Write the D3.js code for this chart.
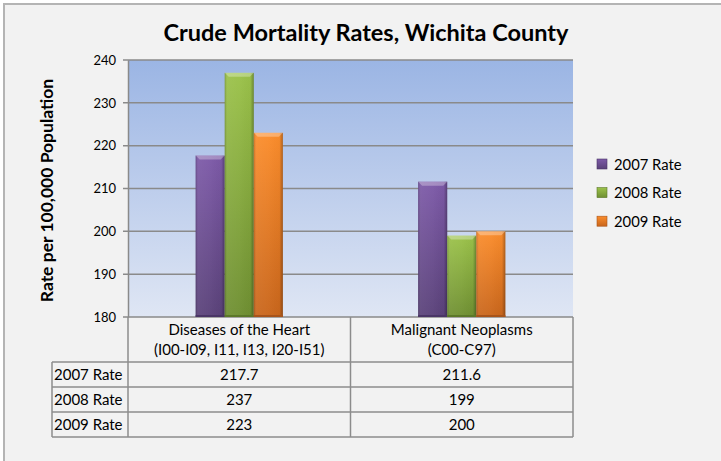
<!DOCTYPE html>
<html>
<head>
<meta charset="utf-8">
<script src="https://cdn.jsdelivr.net/npm/d3@7"></script>
<style>
  body { margin: 0; background: #ffffff; }
  svg text { font-family: Lato, "Open Sans", sans-serif; fill: #000; }
</style>
</head>
<body>
<div id="chart"></div>
<script>
var svgWidth = 721;
var svgHeight = 461;

// chart data
var categories = ["Diseases of the Heart", "Malignant Neoplasms"];
var categoryCodes = ["(I00-I09, I11, I13, I20-I51)", "(C00-C97)"];
var seriesNames = ["2007 Rate", "2008 Rate", "2009 Rate"];
var rate2007 = [217.7, 211.6];
var rate2008 = [237, 199];
var rate2009 = [223, 200];
var yTicks = [180, 190, 200, 210, 220, 230, 240];

var seriesValues = [rate2007, rate2008, rate2009];

// colours for each series: [top, bottom, edge]
var seriesColors = [
  ["#7d5aa8", "#5a4279", "#4a3566"],
  ["#9bc24a", "#6f8f32", "#5c7829"],
  ["#fb8d2c", "#c9661c", "#a8541a"]
];

var plot = { left: 128, right: 573, top: 60, bottom: 317 };

var svg = d3.select("#chart")
  .append("svg")
  .attr("width", svgWidth)
  .attr("height", svgHeight);

var defs = svg.append("defs");

// plot area background gradient
var bgGrad = defs.append("linearGradient")
  .attr("id", "plotBg")
  .attr("x1", 0).attr("y1", 0).attr("x2", 0).attr("y2", 1);
bgGrad.append("stop").attr("offset", "0%").attr("stop-color", "#9bb5e4");
bgGrad.append("stop").attr("offset", "100%").attr("stop-color", "#dfe6f4");

// one vertical gradient per series
seriesColors.forEach(function(c, i) {
  var g = defs.append("linearGradient")
    .attr("id", "bar" + i)
    .attr("x1", 0).attr("y1", 0).attr("x2", 0).attr("y2", 1);
  g.append("stop").attr("offset", "0%").attr("stop-color", c[0]);
  g.append("stop").attr("offset", "100%").attr("stop-color", c[1]);
});

// side shading shared by all bars
var sideGrad = defs.append("linearGradient")
  .attr("id", "barSides")
  .attr("x1", 0).attr("y1", 0).attr("x2", 1).attr("y2", 0);
sideGrad.append("stop").attr("offset", "0%").attr("stop-color", "#000").attr("stop-opacity", 0.2);
sideGrad.append("stop").attr("offset", "10%").attr("stop-color", "#fff").attr("stop-opacity", 0.06);
sideGrad.append("stop").attr("offset", "50%").attr("stop-color", "#fff").attr("stop-opacity", 0.03);
sideGrad.append("stop").attr("offset", "88%").attr("stop-color", "#000").attr("stop-opacity", 0.02);
sideGrad.append("stop").attr("offset", "100%").attr("stop-color", "#000").attr("stop-opacity", 0.3);

// chart area (border only shows on top and left)
svg.append("rect")
  .attr("x", 4)
  .attr("y", 4)
  .attr("width", svgWidth + 10)
  .attr("height", svgHeight + 10)
  .attr("fill", "#f2f2f2")
  .attr("stroke", "#b4b4b4")
  .attr("stroke-width", 2);

// scales
var xScale = d3.scaleBand()
  .domain(categories)
  .range([plot.left, plot.right]);

var groupWidth = xScale.bandwidth() * 0.392;
var xInner = d3.scaleBand()
  .domain(seriesNames)
  .range([-groupWidth / 2, groupWidth / 2]);

var yScale = d3.scaleLinear()
  .domain([180, 240])
  .range([plot.bottom, plot.top]);

// plot background
svg.append("rect")
  .attr("x", plot.left)
  .attr("y", plot.top)
  .attr("width", plot.right - plot.left)
  .attr("height", plot.bottom - plot.top)
  .attr("fill", "url(#plotBg)");

// gridlines
svg.append("g")
  .selectAll("line")
  .data(yTicks)
  .enter()
  .append("line")
  .attr("x1", plot.left - 5)
  .attr("x2", plot.right)
  .attr("y1", d => yScale(d))
  .attr("y2", d => yScale(d))
  .attr("stroke", "#8a8a8a")
  .attr("stroke-width", 1.5);

// y axis
var leftAxis = d3.axisLeft(yScale)
  .tickValues(yTicks)
  .tickSize(0)
  .tickPadding(12);

var yAxis = svg.append("g")
  .attr("transform", `translate(${plot.left}, 0)`)
  .call(leftAxis);
yAxis.select(".domain")
  .attr("stroke", "#8a8a8a")
  .attr("stroke-width", 1.5);
yAxis.selectAll("text")
  .style("font-family", "Lato, sans-serif")
  .style("font-size", "13px")
  .attr("fill", "#1a1a1a");

// bars
seriesNames.forEach(function(name, s) {
  var g = svg.append("g");
  var data = categories.map(function(c, i) {
    return { cat: c, value: seriesValues[s][i] };
  });
  var x0 = d => xScale(d.cat) + xScale.bandwidth() / 2 + xInner(name);
  var w = xInner.bandwidth();

  g.selectAll("rect.fill")
    .data(data)
    .enter()
    .append("rect")
    .attr("class", "fill")
    .attr("x", x0)
    .attr("y", d => yScale(d.value))
    .attr("width", w)
    .attr("height", d => yScale(180) - yScale(d.value))
    .attr("fill", "url(#bar" + s + ")");

  g.selectAll("rect.sides")
    .data(data)
    .enter()
    .append("rect")
    .attr("class", "sides")
    .attr("x", x0)
    .attr("y", d => yScale(d.value))
    .attr("width", w)
    .attr("height", d => yScale(180) - yScale(d.value))
    .attr("fill", "url(#barSides)");

  // top bevel
  g.selectAll("path.bevel")
    .data(data)
    .enter()
    .append("path")
    .attr("class", "bevel")
    .attr("d", function(d) {
      var x = x0(d), y = yScale(d.value);
      return `M${x},${y}L${x + w},${y}L${x + w - 4},${y + 4}L${x + 4},${y + 4}Z`;
    })
    .attr("fill", "#ffffff")
    .attr("fill-opacity", 0.3);

  // bottom edge
  g.selectAll("line.base")
    .data(data)
    .enter()
    .append("line")
    .attr("class", "base")
    .attr("x1", x0)
    .attr("x2", d => x0(d) + w)
    .attr("y1", yScale(180) - 1)
    .attr("y2", yScale(180) - 1)
    .attr("stroke", seriesColors[s][2])
    .attr("stroke-width", 2);
});

// title
svg.append("text")
  .attr("x", 366)
  .attr("y", 41)
  .attr("text-anchor", "middle")
  .style("font-size", "23.5px")
  .style("font-weight", "bold")
  .text("Crude Mortality Rates, Wichita County");

// y axis title
svg.append("text")
  .attr("transform", `translate(53, ${(plot.top + plot.bottom) / 2 + 2}) rotate(-90)`)
  .attr("text-anchor", "middle")
  .style("font-size", "17.5px")
  .style("font-weight", "bold")
  .text("Rate per 100,000 Population");

// data table
var tableLeft = 52;
var rowEdges = [plot.bottom, 362, 387, 412, 437];
var table = svg.append("g");

// horizontal lines
table.selectAll("line.h")
  .data(rowEdges.slice(1))
  .enter()
  .append("line")
  .attr("class", "h")
  .attr("x1", tableLeft)
  .attr("x2", plot.right)
  .attr("y1", d => d)
  .attr("y2", d => d)
  .attr("stroke", "#8c8c8c")
  .attr("stroke-width", 1.5);

// vertical lines
var colEdges = [plot.left].concat(categories.map(c => xScale(c) + xScale.bandwidth()));
table.selectAll("line.v")
  .data(colEdges)
  .enter()
  .append("line")
  .attr("class", "v")
  .attr("x1", d => d)
  .attr("x2", d => d)
  .attr("y1", plot.bottom)
  .attr("y2", rowEdges[4])
  .attr("stroke", "#8c8c8c")
  .attr("stroke-width", 1.5);

table.append("line")
  .attr("x1", tableLeft)
  .attr("x2", tableLeft)
  .attr("y1", rowEdges[1])
  .attr("y2", rowEdges[4])
  .attr("stroke", "#8c8c8c")
  .attr("stroke-width", 1.5);

// category headers
categories.forEach(function(c, i) {
  var cx = xScale(c) + xScale.bandwidth() / 2;
  table.append("text")
    .attr("x", cx)
    .attr("y", 335)
    .attr("text-anchor", "middle")
    .style("font-size", "15px")
    .text(c);
  table.append("text")
    .attr("x", cx)
    .attr("y", 355)
    .attr("text-anchor", "middle")
    .style("font-size", "15px")
    .text(categoryCodes[i]);
});

// row labels and values
seriesNames.forEach(function(name, s) {
  var cy = (rowEdges[s + 1] + rowEdges[s + 2]) / 2 + 5;
  table.append("text")
    .attr("x", tableLeft + 2)
    .attr("y", cy)
    .style("font-size", "15px")
    .text(name);
  categories.forEach(function(c, i) {
    table.append("text")
      .attr("x", xScale(c) + xScale.bandwidth() / 2)
      .attr("y", cy)
      .attr("text-anchor", "middle")
      .style("font-size", "15px")
      .text(d3.format("")(seriesValues[s][i]));
  });
});

// legend
var legend = svg.append("g")
  .attr("transform", "translate(597, 159)");

var legendItems = legend.selectAll("g")
  .data(seriesNames)
  .enter()
  .append("g")
  .attr("transform", (d, i) => `translate(0, ${i * 28.6})`);

legendItems.append("rect")
  .attr("width", 10)
  .attr("height", 10)
  .attr("fill", (d, i) => "url(#bar" + i + ")")
  .attr("stroke", (d, i) => seriesColors[i][2])
  .attr("stroke-width", 0.6);

legendItems.append("text")
  .attr("x", 17)
  .attr("y", 10.5)
  .style("font-size", "14.8px")
  .text(d => d);
</script>
</body>
</html>
